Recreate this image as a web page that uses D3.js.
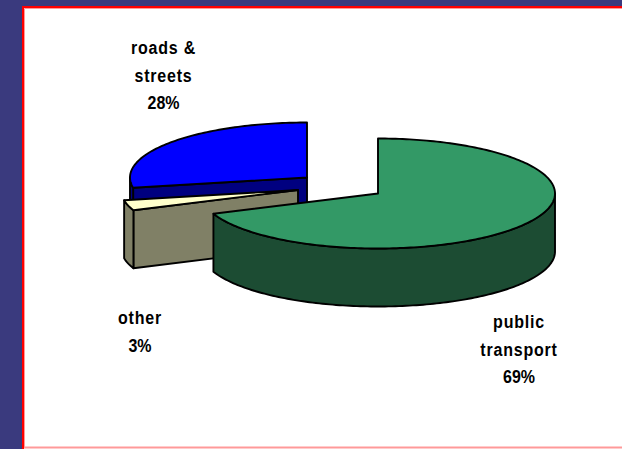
<!DOCTYPE html>
<html>
<head>
<meta charset="utf-8">
<script src="https://cdn.jsdelivr.net/npm/d3@7"></script>
<style>
html, body { margin: 0; padding: 0; background: #3a3a7e; }
svg { display: block; }
</style>
</head>
<body>
<svg id="chart" width="622" height="449"></svg>
<script>
// pie data, clockwise from 12 o'clock
var categories = ["public transport", "other", "roads & streets"];
var shares = [69, 3, 28];
var labelLines = [["public", "transport", "69%"], ["other", "3%"], ["roads &", "streets", "28%"]];

var topColors = ["#339966", "#ffffcc", "#0000ff"];
var wallColors = ["#1c4c33", "#808066", "#000080"];

var config = {
    width: 622, height: 449,
    rx: 177, ry: 55, depth: 58,
    // each slice is pulled out of the pie, so it has its own centre
    centers: [{x: 378, y: 193.5}, {x: 298, y: 190}, {x: 307, y: 177.5}],
    labelPos: [{x: 519, y: 328}, {x: 140, y: 324}, {x: 163.5, y: 54}],
    lineStep: 27.7
};

var svg = d3.select("#chart");

var slices = d3.pie().sort(null).value(function (d) { return d; })(shares);

/**
 * Project a pie angle on the tilted ellipse of a slice.
 */
function project(i, angle, drop) {
    var c = config.centers[i];
    return [c.x + config.rx * Math.sin(angle), c.y - config.ry * Math.cos(angle) + (drop || 0)];
}

function rim(i, a0, a1, drop) {
    var n = Math.max(2, Math.ceil(Math.abs(a1 - a0) / 0.02));
    return d3.range(n + 1).map(function (k) {
        return project(i, a0 + (a1 - a0) * k / n, drop);
    });
}

var line = d3.line();

function drawFace(points, fill) {
    svg.append("path")
        .attr("d", line(points) + "Z")
        .attr("fill", fill)
        .attr("stroke", "#000")
        .attr("stroke-width", 1.9)
        .attr("stroke-linejoin", "round");
}

// panel: white sheet, red edge on the left and top, thin pink line inside and at the bottom
svg.append("rect").attr("x", 22).attr("y", 6).attr("width", 600).attr("height", 443).attr("fill", "#fff");
svg.append("path").attr("d", "M24.5,447.5V8.5H622").attr("fill", "none").attr("stroke", "#ff9999").attr("stroke-width", 1);
svg.append("path").attr("d", "M24,447.5H622").attr("fill", "none").attr("stroke", "#ff9999").attr("stroke-width", 2);
svg.append("path").attr("d", "M23,449V7H622").attr("fill", "none").attr("stroke", "#ff0000").attr("stroke-width", 2);

// back to front: roads & streets, other, public transport
[2, 1, 0].forEach(function (i) {
    var s = slices[i];
    var center = [config.centers[i].x, config.centers[i].y];
    var depth = config.depth;

    if (i === 1) {
        // cut face at the slice start, then the small piece of outer wall at the left
        var p = project(i, s.startAngle);
        drawFace([p, center, [center[0], center[1] + depth], [p[0], p[1] + depth]], wallColors[i]);
        drawFace(rim(i, s.startAngle, s.endAngle).concat(rim(i, s.endAngle, s.startAngle, depth)), wallColors[i]);
    } else if (i === 2) {
        var q = project(i, s.startAngle);
        drawFace([q, center, [center[0], center[1] + depth], [q[0], q[1] + depth]], wallColors[i]);
        var left = Math.min(s.endAngle, Math.PI * 1.5);
        drawFace(rim(i, s.startAngle, left).concat(rim(i, left, s.startAngle, depth)), wallColors[i]);
    } else {
        // outer wall from 3 o'clock round to the slice end
        var w0 = Math.PI / 2;
        drawFace(rim(i, w0, s.endAngle).concat(rim(i, s.endAngle, w0, depth)), wallColors[i]);
    }

    // top face
    drawFace([center].concat(rim(i, s.startAngle, s.endAngle)), topColors[i]);
});

// labels: the type in the reference is stretched upward, words are spaced out, percentages not
labelLines.forEach(function (lines, i) {
    var pos = config.labelPos[i];
    lines.forEach(function (txt, k) {
        svg.append("text")
            .attr("transform", "translate(" + pos.x + "," + (pos.y + k * config.lineStep) + ") scale(1,1.1)")
            .attr("text-anchor", "middle")
            .attr("font-family", "'Liberation Sans', Arial, sans-serif")
            .attr("font-weight", "bold")
            .attr("font-size", 16)
            .attr("fill", "#000")
            .style("letter-spacing", txt.indexOf("%") >= 0 ? "0px" : "0.8px")
            .text(txt);
    });
});
</script>
</body>
</html>
